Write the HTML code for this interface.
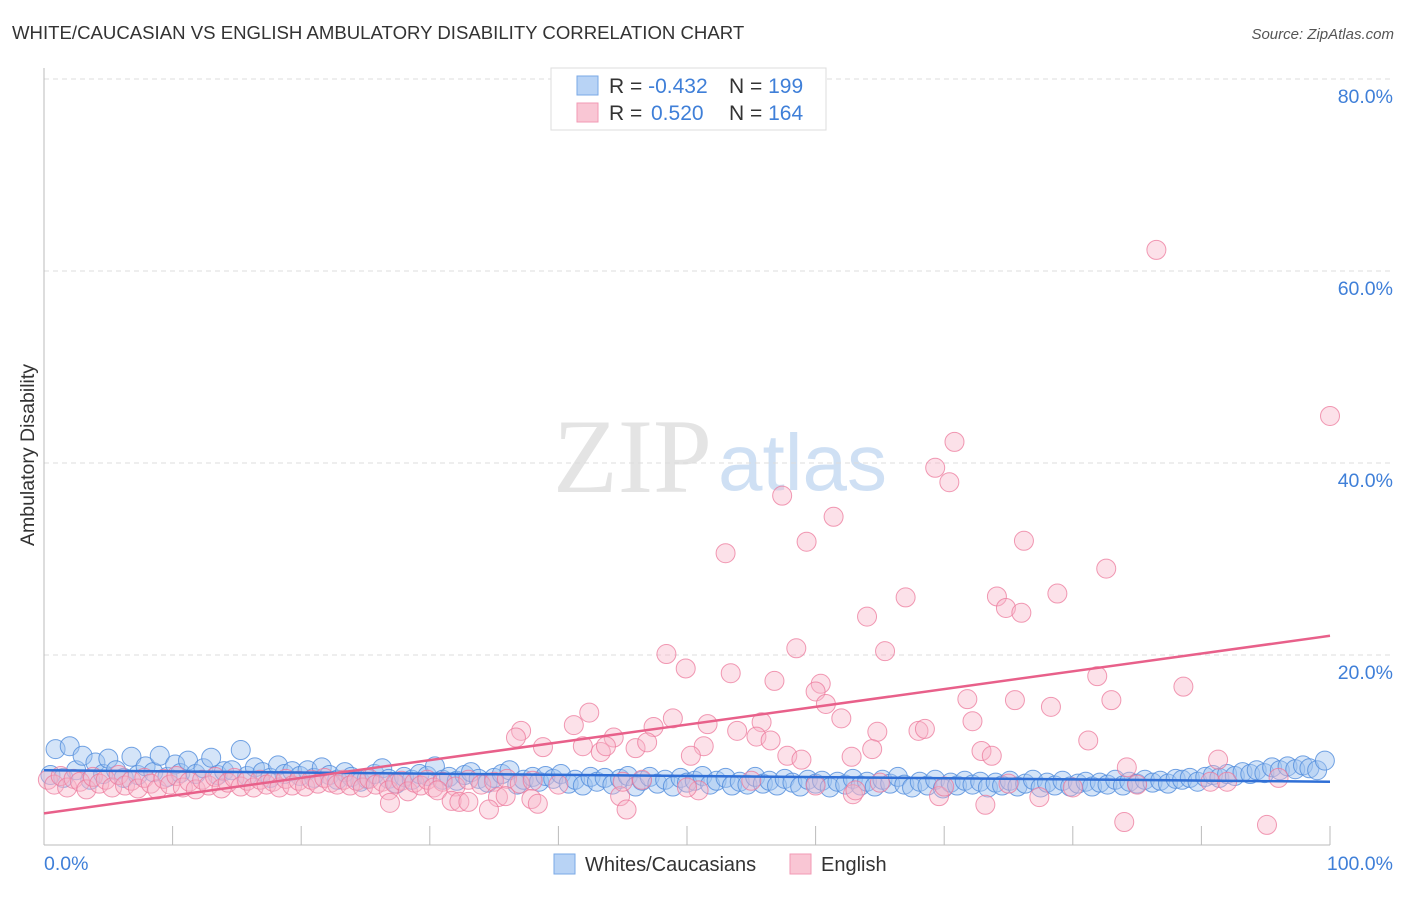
<!DOCTYPE html>
<html><head><meta charset="utf-8"><style>
body{margin:0;background:#fff;font-family:"Liberation Sans",sans-serif}
</style></head><body>
<svg width="1406" height="892" xmlns="http://www.w3.org/2000/svg">
<text x="12" y="39" font-size="18.6" fill="#333">WHITE/CAUCASIAN VS ENGLISH AMBULATORY DISABILITY CORRELATION CHART</text>
<text x="1394" y="39" font-size="15" fill="#555" font-style="italic" text-anchor="end">Source: ZipAtlas.com</text>
<text x="553" y="492" font-size="106" fill="#e4e4e4" font-family="Liberation Serif,serif">ZIP</text>
<text x="718" y="490" font-size="80" fill="#cfe0f4">atlas</text>
<g id="grid"></g>
<line x1="44" y1="68" x2="44" y2="845" stroke="#bbb"/>
<line x1="44" y1="845" x2="1330" y2="845" stroke="#bbb"/>
<text x="34" y="455" font-size="19.5" fill="#333" text-anchor="middle" transform="rotate(-90 34 455)">Ambulatory Disability</text>
<text x="44" y="870" font-size="19.5" fill="#3f7fd8">0.0%</text>
<text x="1393" y="870" font-size="19.5" fill="#3f7fd8" text-anchor="end">100.0%</text>
<g id="pts"></g>
<g id="lines"></g>
<g>
<rect x="551" y="68" width="275" height="62" fill="#fff" stroke="#ddd"/>
<rect x="577" y="76" width="21" height="19" fill="#b8d3f5" stroke="#7aa8e6"/>
<rect x="577" y="103" width="21" height="19" fill="#f9c6d4" stroke="#f29ab4"/>
<text x="609" y="93" font-size="21" fill="#333">R = <tspan fill="#3f7fd8">-0.432</tspan></text>
<text x="729" y="93" font-size="21" fill="#333">N = <tspan fill="#3f7fd8">199</tspan></text>
<text x="609" y="120" font-size="21" fill="#333">R = <tspan fill="#3f7fd8" x="651">0.520</tspan></text>
<text x="729" y="120" font-size="21" fill="#333">N = <tspan fill="#3f7fd8">164</tspan></text>
</g>
<g>
<rect x="554" y="854" width="21" height="20" fill="#b8d3f5" stroke="#7aa8e6"/>
<text x="585" y="871" font-size="20" fill="#333">Whites/Caucasians</text>
<rect x="790" y="854" width="21" height="20" fill="#f9c6d4" stroke="#f29ab4"/>
<text x="821" y="871" font-size="20" fill="#333">English</text>
</g>
</svg>
<script>
const yTicks=[20,40,60,80];
const xTicks=[10,20,30,40,50,60,70,80,90,100];
const blueX=[0.5,0.9,1.5,2.0,2.5,3.0,3.6,4.0,4.6,5.0,5.6,6.2,6.8,7.3,7.9,8.5,9.0,9.6,10.2,10.6,11.2,11.8,12.4,13.0,13.5,14.0,14.6,15.3,15.8,16.4,17.0,17.6,18.2,18.7,19.3,19.9,20.5,21.0,21.6,22.2,22.8,23.4,23.9,24.6,25.1,25.7,26.3,26.8,27.4,28.0,28.6,29.2,29.8,30.4,31.0,31.5,32.1,32.7,33.2,33.8,34.5,35.0,35.6,36.2,36.8,37.3,38.0,38.5,39.0,39.6,40.2,40.8,41.3,41.9,42.5,43.0,43.6,44.2,44.8,45.4,46.0,46.5,47.1,47.7,48.3,48.9,49.5,50.0,50.6,51.2,51.8,52.3,53.0,53.5,54.1,54.7,55.3,55.9,56.4,57.0,57.6,58.2,58.8,59.4,60.0,60.5,61.1,61.7,62.3,62.9,63.5,64.0,64.6,65.2,65.8,66.4,66.9,67.5,68.1,68.7,69.3,69.9,70.5,71.0,71.6,72.2,72.8,73.4,74.0,74.5,75.1,75.7,76.3,76.9,77.5,78.0,78.6,79.2,79.8,80.4,81.0,81.5,82.1,82.7,83.3,83.9,84.4,85.0,85.6,86.2,86.8,87.4,88.0,88.5,89.1,89.7,90.3,90.9,91.4,92.0,92.6,93.2,93.8,94.3,94.9,95.5,96.1,96.7,97.3,97.9,98.4,99.0,99.6];
const blueY=[7.5,10.2,7.2,10.5,8.0,9.5,7.0,8.8,7.6,9.2,8.0,7.2,9.4,7.5,8.4,7.8,9.5,7.3,8.6,7.7,9.0,7.6,8.2,9.3,7.5,7.9,8.0,10.1,7.4,8.3,7.8,7.2,8.5,7.6,7.9,7.4,8.0,7.2,8.3,7.5,7.0,7.8,7.3,6.8,7.1,7.6,8.2,7.1,6.6,7.3,7.0,7.6,7.4,8.4,7.0,7.3,6.9,7.5,7.8,7.1,6.7,7.2,7.6,8.0,6.5,7.0,7.3,6.8,7.4,7.1,7.6,6.6,7.0,6.4,7.3,6.8,7.2,6.5,7.1,7.4,6.3,6.9,7.3,6.6,7.0,6.3,7.2,6.7,6.9,7.4,6.5,6.9,7.2,6.4,6.8,6.5,7.3,6.6,6.9,6.4,7.1,6.7,6.3,7.0,6.6,6.9,6.2,6.8,6.5,7.1,6.4,6.8,6.3,7.0,6.6,7.3,6.5,6.2,6.8,6.4,7.0,6.1,6.7,6.4,6.9,6.5,6.8,6.2,6.7,6.4,6.9,6.3,6.6,7.0,6.2,6.7,6.4,6.9,6.3,6.6,6.8,6.3,6.7,6.5,7.0,6.4,6.8,6.6,7.0,6.7,6.9,6.6,7.1,7.0,7.2,6.8,7.3,7.5,7.2,7.6,7.4,7.8,7.6,8.0,7.7,8.3,8.0,8.4,8.1,8.5,8.2,8.0,9.0];
const pinkX=[0.3,0.8,1.3,1.8,2.3,2.8,3.3,3.8,4.3,4.8,5.3,5.8,6.3,6.8,7.3,7.8,8.3,8.8,9.3,9.8,10.3,10.8,11.3,11.8,12.3,12.8,13.3,13.8,14.3,14.8,15.3,15.8,16.3,16.8,17.3,17.8,18.3,18.8,19.3,19.8,20.3,20.8,21.3,21.8,22.3,22.8,23.3,23.8,24.3,24.8,25.3,25.8,26.3,26.8,27.3,27.8,28.3,28.8,29.3,29.8,30.3,31.0,32.0,33.0,34.0,35.0,36.0,37.0,38.0,
86.5,100,70.8,69.3,70.4,57.4,61.4,53.0,59.3,76.2,82.6,67.0,74.1,78.8,74.8,76.0,64.0,58.5,65.4,48.4,49.9,53.4,81.9,88.6,56.8,60.4,60.0,60.8,71.8,75.5,78.3,83.0,42.4,48.9,51.6,55.8,62.0,72.2,41.2,37.1,47.4,53.9,64.8,68.0,
68.5,36.7,38.8,44.3,41.9,46.0,46.9,43.3,43.7,55.4,56.5,51.3,50.3,57.8,58.9,62.8,64.4,72.9,73.7,81.2,84.2,91.3,
26.9,30.6,31.7,32.3,33.0,35.3,34.6,35.9,37.9,38.4,44.8,45.3,50.9,62.9,69.6,73.2,77.4,84.0,95.1,90.7,63.1,46.5,
40,45,50,55,60,65,70,75,80,85,92,96];
const pinkY=[7.0,6.5,7.4,6.2,7.1,6.8,6.0,7.3,6.6,7.0,6.2,7.5,6.4,6.9,6.1,7.2,6.6,6.0,7.1,6.5,7.4,6.2,6.8,6.0,7.0,6.4,7.3,6.1,6.7,7.2,6.3,6.9,6.2,7.0,6.5,6.8,6.2,7.1,6.4,6.9,6.3,7.0,6.6,7.2,6.7,6.5,7.0,6.4,6.9,6.2,7.1,6.5,6.8,5.9,6.6,6.9,5.8,6.7,6.4,7.0,6.2,6.8,6.3,7.0,6.5,6.8,7.1,6.6,6.9,
62.2,44.9,42.2,39.5,38.0,36.6,34.4,30.6,31.8,31.9,29.0,26.0,26.1,26.4,24.9,24.4,24.0,20.7,20.4,20.1,18.6,18.1,17.8,16.7,17.3,17.0,16.2,14.9,15.4,15.3,14.6,15.3,14.0,13.4,12.8,13.0,13.4,13.1,12.7,12.1,12.5,12.1,12.0,12.1,
12.3,11.4,10.4,11.4,10.5,10.3,10.9,9.9,10.5,11.5,11.1,10.5,9.5,9.5,9.1,9.4,10.2,10.0,9.5,11.1,8.3,9.1,
4.6,5.9,4.8,4.7,4.7,5.2,3.9,5.3,5.0,4.5,5.3,3.9,5.9,5.5,5.3,4.4,5.2,2.6,2.3,6.8,5.9,7.0,
6.5,6.8,6.2,6.9,6.4,6.7,6.3,6.6,6.2,6.5,6.8,7.2];
const blueLine=[8.0,6.8];
const pinkLine=[3.5,22.0];

const NS="http://www.w3.org/2000/svg";
const X0=44,X1=1330,Y0=847,PXPER=9.6;
function sx(v){return X0+(X1-X0)*v/100;}
function sy(v){return Y0-v*PXPER;}
const grid=document.getElementById('grid');
yTicks.forEach(t=>{
  const l=document.createElementNS(NS,'line');
  l.setAttribute('x1',44);l.setAttribute('x2',1394);
  l.setAttribute('y1',sy(t));l.setAttribute('y2',sy(t));
  l.setAttribute('stroke','#ddd');l.setAttribute('stroke-dasharray','5,4');
  
  
  grid.appendChild(l);
  const tx=document.createElementNS(NS,'text');
  tx.setAttribute('x',1393);tx.setAttribute('y',sy(t)+24);
  tx.setAttribute('text-anchor','end');tx.setAttribute('font-size','19.5');tx.setAttribute('fill','#3f7fd8');
  tx.textContent=t.toFixed(1)+'%';
  
  
  grid.appendChild(tx);
});
xTicks.forEach(t=>{
  const l=document.createElementNS(NS,'line');
  l.setAttribute('x1',sx(t));l.setAttribute('x2',sx(t));
  l.setAttribute('y1',826);l.setAttribute('y2',845);
  l.setAttribute('stroke','#bbb');
  
  
  grid.appendChild(l);
});
const pts=document.getElementById('pts');
function dot(x,y,fill,stroke,name){
  const c=document.createElementNS(NS,'circle');
  c.setAttribute('cx',sx(x));c.setAttribute('cy',sy(y));c.setAttribute('r',9.5);
  c.setAttribute('fill',fill);c.setAttribute('stroke',stroke);c.setAttribute('stroke-width','1');
  
  
  pts.appendChild(c);
}
blueX.forEach((x,i)=>dot(x,blueY[i],'rgba(160,196,240,0.45)','rgba(80,140,220,0.8)','point-whites'));
pinkX.forEach((x,i)=>dot(x,pinkY[i],'rgba(248,180,200,0.4)','rgba(236,120,155,0.75)','point-english'));
const lines=document.getElementById('lines');
function tl(v,col,name){
  const l=document.createElementNS(NS,'line');
  l.setAttribute('x1',sx(0));l.setAttribute('x2',sx(100));
  l.setAttribute('y1',sy(v[0]));l.setAttribute('y2',sy(v[1]));
  l.setAttribute('stroke',col);l.setAttribute('stroke-width','2.5');
  
  
  lines.appendChild(l);
}
tl(blueLine,'#2f6fd6','trendline-whites');
tl(pinkLine,'#e8608a','trendline-english');
</script>
</body></html>
